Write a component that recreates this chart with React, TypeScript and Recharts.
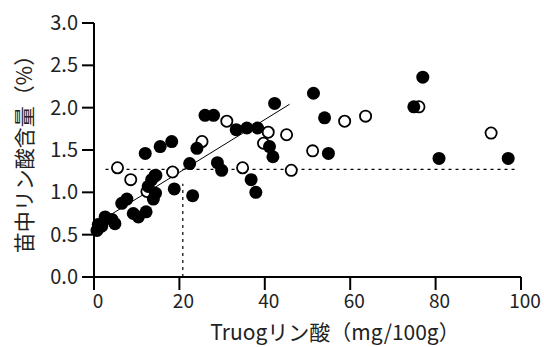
import * as React from 'react';
import { ScatterChart, Scatter, XAxis, YAxis, ReferenceLine, Label } from 'recharts';

// Truog P (mg/100g) vs seedling P content (%)
const filledX = [0.7, 1.0, 1.8, 2.6, 4.2, 4.9, 6.5, 7.7, 9.2, 10.4, 12.2, 13.9, 14.4, 12.7, 13.5, 14.3, 12.0, 15.5, 18.2, 18.8, 22.4, 23.1, 24.1, 26.0, 28.0, 28.9, 29.9, 33.3, 35.8, 38.3, 36.8, 37.9, 41.1, 41.9, 42.3, 51.4, 54.0, 54.9, 74.9, 77.0, 80.8, 97.0];
const filledY = [0.55, 0.62, 0.60, 0.71, 0.68, 0.63, 0.87, 0.92, 0.75, 0.71, 0.77, 0.92, 0.99, 1.07, 1.15, 1.20, 1.46, 1.54, 1.60, 1.04, 1.34, 0.96, 1.52, 1.91, 1.91, 1.35, 1.26, 1.74, 1.76, 1.76, 1.15, 1.00, 1.54, 1.42, 2.05, 2.17, 1.88, 1.46, 2.01, 2.36, 1.40, 1.40];

const openX = [5.5, 8.6, 12.4, 14.5, 18.4, 25.3, 31.1, 34.8, 39.7, 40.8, 45.1, 46.2, 51.2, 58.7, 63.6, 76.1, 93.0];
const openY = [1.29, 1.15, 1.01, 1.20, 1.24, 1.60, 1.84, 1.29, 1.58, 1.71, 1.68, 1.26, 1.49, 1.84, 1.90, 2.01, 1.70];

const xTicks = [0, 20, 40, 60, 80, 100];
const yTicks = [0, 0.5, 1, 1.5, 2, 2.5, 3];

// regression line ends, threshold level and its x crossing
const regStart = { x: 0.5, y: 0.63 };
const regEnd = { x: 45.8, y: 2.04 };
const threshold = 1.27;
const thresholdRange = [2.7, 98.8];
const crossX = 20.8;
const crossTop = 1.1;

const filled = filledX.map((x, i) => ({ x, y: filledY[i] }));
const open = openX.map((x, i) => ({ x, y: openY[i] }));

const FONT = '"Noto Sans CJK JP", "Noto Sans", sans-serif';

const FilledDot = (props: any) => <circle cx={props.cx} cy={props.cy} r={6.5} fill="#000" />;
const OpenDot = (props: any) => (
    <circle cx={props.cx} cy={props.cy} r={5.6} fill="#fff" stroke="#000" strokeWidth={1.8} />
);

export default function App() {
    return (
        <div style={{ position: 'absolute', left: 0, top: 0, background: '#fff' }}>
            <ScatterChart width={544} height={347} margin={{ top: 23, right: 23, left: 0, bottom: 10 }}>
                <XAxis
                    type="number"
                    dataKey="x"
                    domain={[0, 100]}
                    ticks={xTicks}
                    interval={0}
                    tickSize={13}
                    tickMargin={5}
                    height={60}
                    stroke="#000"
                    strokeWidth={2}
                    tick={{ fill: '#222', fontSize: 19, fontFamily: FONT, dx: 4 }}
                >
                    <Label
                        content={() => (
                            <text x={335} y={340} textAnchor="middle" fontSize={21} fontFamily={FONT} fill="#222">
                                Truogリン酸（mg/100g）
                            </text>
                        )}
                    />
                </XAxis>
                <YAxis
                    type="number"
                    dataKey="y"
                    domain={[0, 3]}
                    ticks={yTicks}
                    interval={0}
                    width={94}
                    tickSize={12}
                    tickMargin={4}
                    tickFormatter={(v: number) => v.toFixed(1)}
                    stroke="#000"
                    strokeWidth={2}
                    tick={{ fill: '#222', fontSize: 20, fontFamily: FONT }}
                >
                    <Label
                        content={() => (
                            <text
                                x={0}
                                y={0}
                                transform="translate(32,149) rotate(-90)"
                                textAnchor="middle"
                                fontSize={21}
                                fontFamily={FONT}
                                fill="#222"
                            >
                                苗中リン酸含量（%）
                            </text>
                        )}
                    />
                </YAxis>
                <ReferenceLine
                    segment={[{ x: thresholdRange[0], y: threshold }, { x: thresholdRange[1], y: threshold }]}
                    stroke="#000"
                    strokeWidth={1.2}
                    strokeDasharray="3 4"
                />
                <ReferenceLine
                    segment={[{ x: crossX, y: 0 }, { x: crossX, y: crossTop }]}
                    stroke="#000"
                    strokeWidth={1.2}
                    strokeDasharray="3 4"
                />
                <Scatter data={open} shape={OpenDot} isAnimationActive={false} />
                <Scatter data={filled} shape={FilledDot} isAnimationActive={false} />
                <ReferenceLine segment={[regStart, regEnd]} stroke="#000" strokeWidth={1} />
            </ScatterChart>
        </div>
    );
}
